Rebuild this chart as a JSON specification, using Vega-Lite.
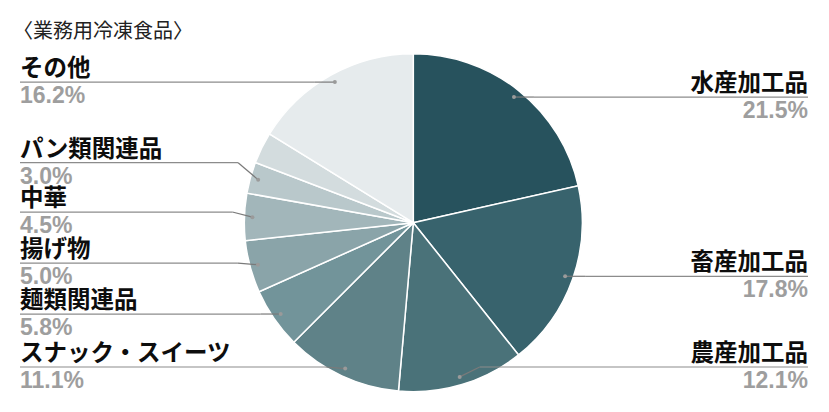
{
  "$schema": "https://vega.github.io/schema/vega-lite/v6.json",
  "width": 829,
  "height": 412,
  "padding": 0,
  "autosize": {"type": "none"},
  "background": "#ffffff",
  "config": {"view": {"stroke": null}},
  "title": {
    "text": "〈業務用冷凍食品〉",
    "anchor": "start",
    "frame": "group",
    "orient": "top",
    "offset": 0,
    "baseline": "alphabetic",
    "dx": 13,
    "dy": 58,
    "font": "Noto Sans CJK JP",
    "fontSize": 20,
    "fontWeight": "normal",
    "color": "#222222"
  },
  "data": {
    "values": [
      {"order": 1, "label": "水産加工品", "value": 21.5},
      {"order": 2, "label": "畜産加工品", "value": 17.8},
      {"order": 3, "label": "農産加工品", "value": 12.1},
      {"order": 4, "label": "スナック・スイーツ", "value": 11.1},
      {"order": 5, "label": "麺類関連品", "value": 5.8},
      {"order": 6, "label": "揚げ物", "value": 5.0},
      {"order": 7, "label": "中華", "value": 4.5},
      {"order": 8, "label": "パン類関連品", "value": 3.0},
      {"order": 9, "label": "", "value": 3.0},
      {"order": 10, "label": "その他", "value": 16.2}
    ]
  },
  "transform": [
    {"joinaggregate": [{"op": "sum", "field": "value", "as": "total"}]},
    {"window": [{"op": "sum", "field": "value", "as": "cum"}], "sort": [{"field": "order"}], "frame": [null, 0]},
    {"calculate": "2*PI*(datum.cum - datum.value/2)/datum.total", "as": "a"},
    {"calculate": "161*sin(datum.a)", "as": "dx"},
    {"calculate": "161*cos(datum.a)", "as": "dy"},
    {"calculate": "datum.dx < 0 ? 'L' : 'R'", "as": "side"},
    {"calculate": "format(datum.value, '.1f') + '%'", "as": "pct"}
  ],
  "layer": [
    {
      "mark": {"type": "arc", "outerRadius": 169, "stroke": "#ffffff", "strokeWidth": 1.5},
      "encoding": {
        "theta": {"field": "value", "type": "quantitative", "stack": true},
        "order": {"field": "order", "type": "quantitative"},
        "color": {
          "field": "order",
          "type": "ordinal",
          "legend": null,
          "scale": {
            "domain": [1, 2, 3, 4, 5, 6, 7, 8, 9, 10],
            "range": ["#27525d", "#38636d", "#4a7279", "#5f8288", "#72949a", "#8aa4a9", "#a2b6ba", "#b9c8cb", "#d3dcde", "#e6ebed"]
          }
        },
        "x": {"datum": 0, "type": "quantitative", "scale": {"domain": [-413.3, 415.7], "nice": false, "zero": false}, "axis": null},
        "y": {"datum": 0, "type": "quantitative", "scale": {"domain": [-189.3, 222.7], "nice": false, "zero": false}, "axis": null}
      }
    },
    {
      "transform": [
        {"filter": "datum.label != ''"},
        {"calculate": "max(datum.dy, -144.3)", "as": "dyc"},
        {"window": [{"op": "lag", "field": "dyc", "as": "lag1"}], "groupby": ["side"], "sort": [{"field": "dy"}]},
        {"calculate": "datum.lag1 == null ? datum.dyc : max(datum.dyc, datum.lag1 + 51)", "as": "ly1"},
        {"window": [{"op": "lag", "field": "ly1", "as": "lag2"}], "groupby": ["side"], "sort": [{"field": "dy"}]},
        {"calculate": "datum.lag2 == null ? datum.ly1 : max(datum.ly1, datum.lag2 + 51)", "as": "ly"},
        {"calculate": "datum.side == 'L' ? datum.dx - 20 : datum.dx + 20", "as": "ex"},
        {"calculate": "datum.side == 'L' ? -393.3 : 394.7", "as": "cx"}
      ],
      "layer": [
        {
          "mark": {"type": "rule", "color": "#8c8c8c", "strokeWidth": 1.2},
          "encoding": {
            "x": {"field": "cx", "type": "quantitative"},
            "x2": {"field": "ex"},
            "y": {"field": "ly", "type": "quantitative"}
          }
        },
        {
          "mark": {"type": "rule", "color": "#7a7a7a", "strokeWidth": 1.2},
          "encoding": {
            "x": {"field": "ex", "type": "quantitative"},
            "y": {"field": "ly", "type": "quantitative"},
            "x2": {"field": "dx"},
            "y2": {"field": "dy"}
          }
        },
        {
          "mark": {"type": "point", "filled": true, "color": "#9a9a9a", "size": 16, "opacity": 1},
          "encoding": {
            "x": {"field": "dx", "type": "quantitative"},
            "y": {"field": "dy", "type": "quantitative"}
          }
        },
        {
          "transform": [{"filter": "datum.side == 'L'"}],
          "mark": {"type": "text", "align": "left", "baseline": "alphabetic", "dy": -6, "font": "Noto Sans CJK JP", "fontSize": 23.5, "fontWeight": "bold", "color": "#0d0d0d"},
          "encoding": {
            "x": {"field": "cx", "type": "quantitative"},
            "y": {"field": "ly", "type": "quantitative"},
            "text": {"field": "label"}
          }
        },
        {
          "transform": [{"filter": "datum.side == 'R'"}],
          "mark": {"type": "text", "align": "right", "baseline": "alphabetic", "dy": -6, "font": "Noto Sans CJK JP", "fontSize": 23.5, "fontWeight": "bold", "color": "#0d0d0d"},
          "encoding": {
            "x": {"field": "cx", "type": "quantitative"},
            "y": {"field": "ly", "type": "quantitative"},
            "text": {"field": "label"}
          }
        },
        {
          "transform": [{"filter": "datum.side == 'L'"}],
          "mark": {"type": "text", "align": "left", "baseline": "alphabetic", "dy": 21, "font": "Liberation Sans", "fontSize": 23, "fontWeight": "bold", "color": "#9e9e9e"},
          "encoding": {
            "x": {"field": "cx", "type": "quantitative"},
            "y": {"field": "ly", "type": "quantitative"},
            "text": {"field": "pct"}
          }
        },
        {
          "transform": [{"filter": "datum.side == 'R'"}],
          "mark": {"type": "text", "align": "right", "baseline": "alphabetic", "dy": 21, "font": "Liberation Sans", "fontSize": 23, "fontWeight": "bold", "color": "#9e9e9e"},
          "encoding": {
            "x": {"field": "cx", "type": "quantitative"},
            "y": {"field": "ly", "type": "quantitative"},
            "text": {"field": "pct"}
          }
        }
      ]
    }
  ]
}
